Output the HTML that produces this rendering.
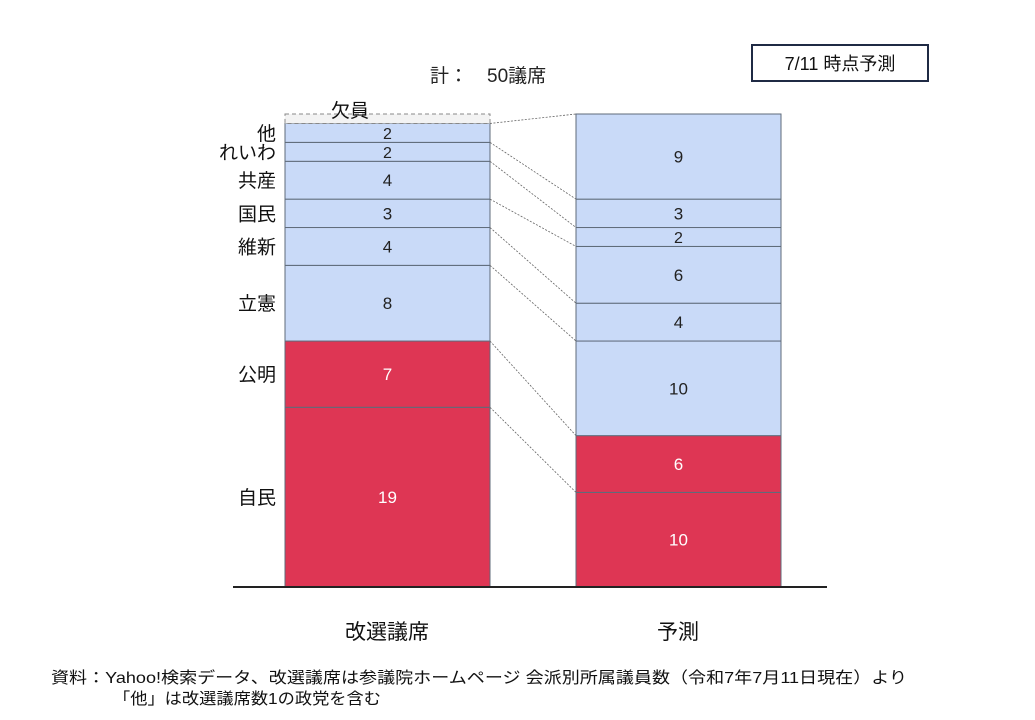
<!DOCTYPE html>
<html><head><meta charset="utf-8"><style>
html,body{margin:0;padding:0;background:#fff;}
svg{display:block;font-family:"Liberation Sans","Noto Sans CJK JP",sans-serif;}
</style></head><body>
<svg id="chart" width="1035" height="720" viewBox="0 0 1035 720">
<text x="430" y="82" font-size="19" fill="#222">計：　50議席</text>
<rect x="752" y="45" width="176" height="36" fill="#fff" stroke="#1f2a44" stroke-width="2"/>
<text x="840" y="70" font-size="18" text-anchor="middle" fill="#111">7/11 時点予測</text>
<g id="bars"></g>
<line x1="233" y1="587" x2="827" y2="587" stroke="#222" stroke-width="2"/>
<text x="387" y="639" font-size="21" text-anchor="middle" fill="#111">改選議席</text>
<text x="678" y="639" font-size="21" text-anchor="middle" fill="#111">予測</text>
<text x="51" y="683" font-size="16" textLength="856" lengthAdjust="spacingAndGlyphs" fill="#111">資料：Yahoo!検索データ、改選議席は参議院ホームページ 会派別所属議員数（令和7年7月11日現在）より</text>
<text x="113" y="704" font-size="16" textLength="268" lengthAdjust="spacingAndGlyphs" fill="#111">「他」は改選議席数1の政党を含む</text>
</svg>
<script>
const parties = ['自民','公明','立憲','維新','国民','共産','れいわ','他'];
const currentSeats = [19,7,8,4,3,4,2,2];
const vacancy = 1;
const forecastSeats = [10,6,10,4,6,2,3,9];
const coalition = [true,true,false,false,false,false,false,false];

const base = 587, pxPerSeat = 9.46;
const y = v => base - v * pxPerSeat;
const leftX = 285, rightX = 576, barW = 205;
const ns = 'http://www.w3.org/2000/svg';
const g = document.getElementById('bars');
function mk(tag, attrs){const e=document.createElementNS(ns,tag);for(const k in attrs)e.setAttribute(k,attrs[k]);g.appendChild(e);return e;}

function stack(vals, x, prefix, withLabels){
  let cum = 0; const tops = [];
  vals.forEach((v,i)=>{
    const y0 = y(cum), y1 = y(cum+v);
    const r = mk('rect',{x:x,y:y1,width:barW,height:y0-y1,fill:coalition[i]?'#de3654':'#c9daf8',stroke:'#5f6b7a','stroke-width':1});
    
    
    const fs = (y0-y1) < 22 ? 16 : 17;
    const t = mk('text',{x:x+barW/2,y:(y0+y1)/2+6,'font-size':fs,'text-anchor':'middle',fill:coalition[i]?'#fff':'#222'});
    t.textContent = v;
    
    
    if(withLabels){
      const l = mk('text',{x:276,y:(y0+y1)/2+7,'font-size':19,'text-anchor':'end',fill:'#111'});
      l.textContent = parties[i];
      
      
    }
    cum += v; tops.push(cum);
  });
  return tops;
}
const lt = stack(currentSeats, leftX, 'current', true);
const rt = stack(forecastSeats, rightX, 'forecast', false);
// vacancy
const total = currentSeats.reduce((a,b)=>a+b,0);
const vr = mk('rect',{x:leftX,y:y(total+vacancy),width:barW,height:vacancy*pxPerSeat,fill:'#f3f3f3',stroke:'#888','stroke-dasharray':'4 3','stroke-width':1});


const vt = mk('text',{x:350,y:y(total+vacancy)+3,'font-size':19,'text-anchor':'middle',fill:'#111'});
vt.textContent = '欠員';


// connectors
lt.forEach((c,i)=>{
  const ln = mk('line',{x1:leftX+barW,y1:y(c),x2:rightX,y2:y(rt[i]),stroke:'#666','stroke-width':0.8,'stroke-dasharray':'2 1.5'});
  
  
});
</script>
</body></html>
